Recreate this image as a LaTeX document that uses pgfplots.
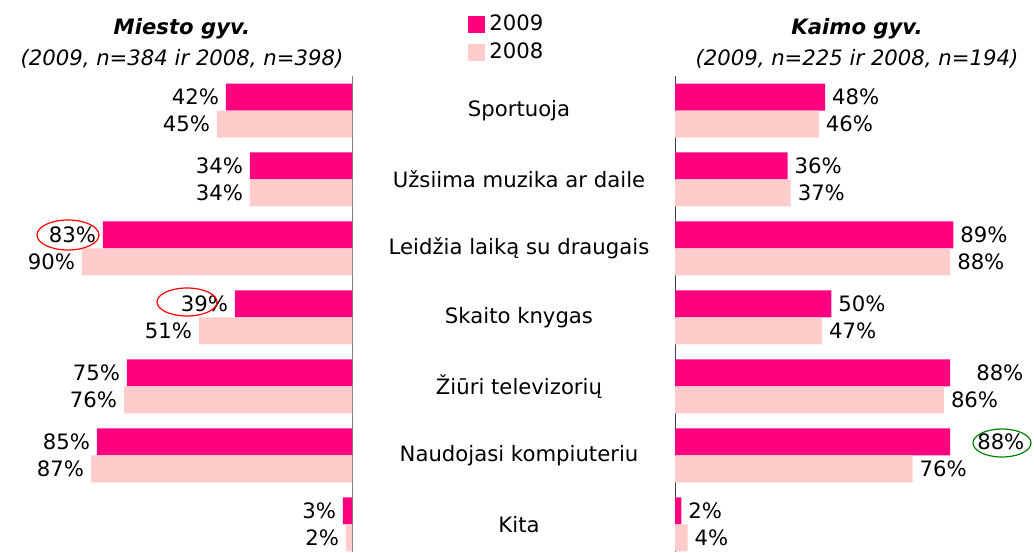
\documentclass[border=0pt]{standalone}
\usepackage{fontspec}
\setmainfont{DejaVu Sans}
\usepackage{pgfplots}
\pgfplotsset{compat=1.18}
\usepackage{pgfplotstable}

\definecolor{c2009}{HTML}{FF0080}
\definecolor{c2008}{HTML}{FFCCCC}

% rows: 0 Sportuoja ... 6 Kita; off = extra label shift (pt) for Kaimo 2009
\pgfplotstableread{
row miesto09 miesto08 kaimo09 kaimo08 off
0 42 45 48 46 0
1 34 34 36 37 0
2 83 90 89 88 0
3 39 51 50 47 0
4 75 76 88 86 9.5
5 85 87 88 76 10
6 3 2 2 4 0
}\datatable

\newcommand{\fs}{\fontsize{10.6}{12.5}\selectfont}

\pgfplotsset{
  bars/.style={
    xbar, bar width=13.5pt, scale only axis,
    height=238pt, xmin=0, ymin=-0.5, ymax=6.4, y dir=reverse,
    hide x axis, ytick={0,...,6}, major tick length=0pt,
    /pgf/number format/assume math mode=true,
    nodes near coords={\pgfmathprintnumber{\pgfplotspointmeta}\%},
    every node near coord/.append style={font=\fs, black},
    clip=false,
  },
}

\begin{document}
\begin{tikzpicture}[font=\fs]
\useasboundingbox (0,0) rectangle (517pt,-276pt);

% Miesto (left, bars to the left)
\begin{axis}[bars, at={(3.5pt,-276pt)}, anchor=south west, width=172.5pt,
  xmax=115, x dir=reverse, axis y line=right, y axis line style={-, gray},
  yticklabels={Sportuoja, Užsiima muzika ar daile, Leidžia laiką su draugais,
    Skaito knygas, Žiūri televizorių, Naudojasi kompiuteriu, Kita},
  yticklabel style={anchor=center, xshift=83.5pt, font=\fs},
  every node near coord/.append style={anchor=east}]
\addplot[fill=c2009, draw=none, bar shift=6.75pt] table[x=miesto09, y=row] {\datatable};
\addplot[fill=c2008, draw=none, bar shift=-6.75pt] table[x=miesto08, y=row] {\datatable};
\end{axis}

% Kaimo (right, bars to the right)
\begin{axis}[bars, at={(337.5pt,-276pt)}, anchor=south west, width=172pt,
  xmax=110, axis y line=left, y axis line style={-, black!75},
  yticklabels={}, every node near coord/.append style={anchor=west},
  legend style={at={(axis description cs:-0.602,1.137)}, anchor=north west,
    draw=none, fill=none, font=\fs, row sep=0.5pt, inner sep=0pt},
  legend cell align=left,
  legend image code/.code={\fill[#1] (0pt,-4.25pt) rectangle (8.5pt,4.25pt);}]
\addplot[fill=c2009, draw=none, bar shift=6.75pt,
  visualization depends on={\thisrow{off} \as \xoff},
  every node near coord/.append style={xshift=\xoff pt}]
  table[x=kaimo09, y=row] {\datatable};
\addplot[fill=c2008, draw=none, bar shift=-6.75pt] table[x=kaimo08, y=row] {\datatable};
\legend{2009, 2008}
\end{axis}

% titles
\node at (91pt,-14.5pt) {\bfseries\itshape Miesto gyv.};
\node at (91pt,-29.5pt) {\itshape (2009, n=384 ir 2008, n=398)};
\node at (428.5pt,-14.5pt) {\bfseries\itshape Kaimo gyv.};
\node at (428.5pt,-29.5pt) {\itshape (2009, n=225 ir 2008, n=194)};

% hand-drawn highlights
\draw[red, line width=0.6pt] (34pt,-117.5pt) ellipse (15.5pt and 7.5pt);
\draw[red, line width=0.6pt] (93.5pt,-151pt) ellipse (15pt and 7pt);
\draw[green!50!black, line width=0.6pt] (501pt,-221.5pt) ellipse (14.5pt and 7pt);
\end{tikzpicture}
\end{document}
